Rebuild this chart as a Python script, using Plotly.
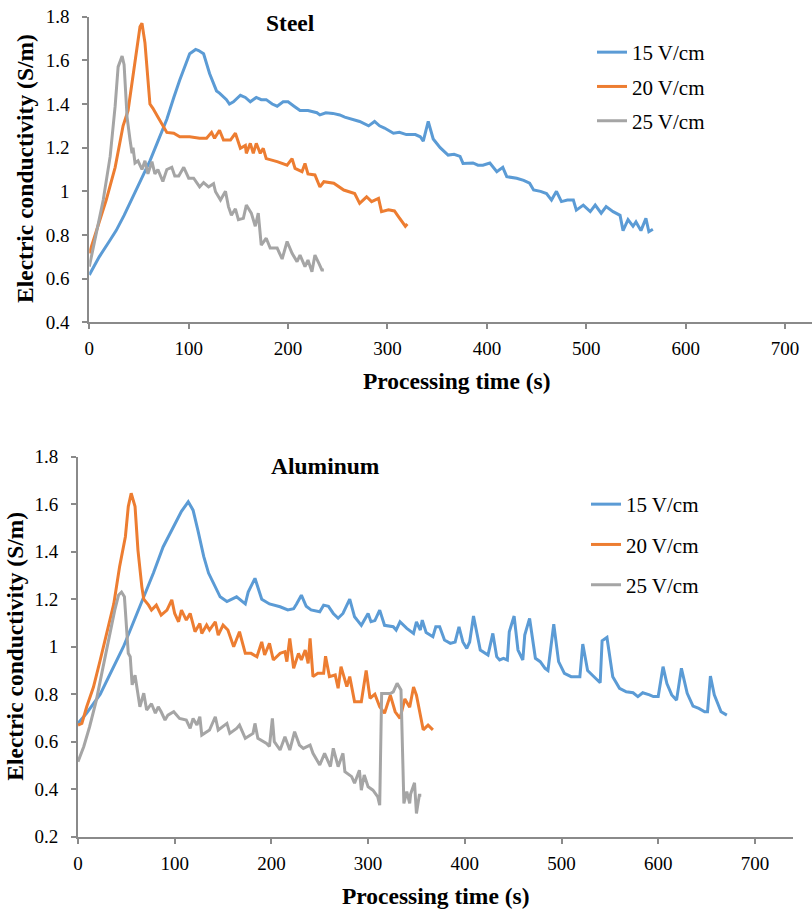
import plotly.graph_objects as go

# ---------------- data ----------------
steel_15_t = [0, 10, 20, 27, 35, 44, 52, 61, 70, 78, 85, 91, 101, 107, 110, 115, 121, 126, 128, 131, 138, 141, 145,
              152, 157, 162, 168, 173, 178, 184, 189, 195, 200, 206, 212, 220, 229, 232, 238, 245, 252, 257, 265,
              272, 281, 287, 292, 297, 306, 312, 319, 328, 333, 336, 341, 346, 353, 361, 367, 373, 376, 386, 391,
              396, 403, 410, 416, 420, 430, 437, 443, 447, 454, 460, 465, 470, 475, 481, 487, 490, 497, 504, 509,
              515, 520, 527, 534, 537, 542, 547, 550, 555, 560, 563, 567]
steel_15_v = [0.617, 0.70, 0.77, 0.82, 0.89, 0.975, 1.05, 1.14, 1.24, 1.33, 1.43, 1.51, 1.63, 1.65, 1.645, 1.63,
              1.54, 1.48, 1.46, 1.45, 1.42, 1.40, 1.41, 1.44, 1.43, 1.41, 1.43, 1.42, 1.42, 1.40, 1.39, 1.41, 1.41,
              1.39, 1.37, 1.37, 1.36, 1.35, 1.36, 1.357, 1.35, 1.34, 1.33, 1.32, 1.30, 1.32, 1.30, 1.29, 1.266,
              1.27, 1.26, 1.26, 1.25, 1.23, 1.32, 1.24, 1.20, 1.166, 1.17, 1.16, 1.128, 1.13, 1.12, 1.12, 1.13,
              1.09, 1.11, 1.067, 1.06, 1.05, 1.037, 1.006, 1.00, 0.99, 0.96, 1.00, 0.953, 0.96, 0.96, 0.914, 0.937,
              0.907, 0.937, 0.90, 0.93, 0.907, 0.89, 0.82, 0.87, 0.84, 0.86, 0.82, 0.876, 0.815, 0.826]

steel_20_t = [0, 5, 11, 17, 26, 34, 39, 44, 51, 53, 56, 61, 64, 69, 74, 78, 85, 91, 101, 111, 118, 123, 126, 131,
              135, 142, 147, 152, 157, 158, 162, 165, 168, 172, 175, 178, 189, 199, 204, 207, 214, 217, 220, 227,
              232, 236, 246, 256, 267, 272, 279, 284, 291, 294, 301, 307, 311, 316, 318, 320]
steel_20_v = [0.716, 0.79, 0.87, 0.96, 1.11, 1.30, 1.37, 1.54, 1.754, 1.77, 1.68, 1.40, 1.38, 1.34, 1.30, 1.27,
              1.266, 1.25, 1.25, 1.243, 1.243, 1.27, 1.243, 1.28, 1.235, 1.235, 1.266, 1.197, 1.21, 1.174, 1.22,
              1.174, 1.22, 1.174, 1.197, 1.15, 1.136, 1.12, 1.15, 1.105, 1.09, 1.128, 1.08, 1.075, 1.02, 1.044,
              1.037, 1.006, 0.99, 0.945, 0.975, 0.953, 0.968, 0.907, 0.915, 0.91, 0.884, 0.853, 0.84, 0.85]

steel_25_t = [0, 7, 14, 21, 26, 29, 33, 35, 38, 41, 43, 44, 46, 49, 53, 56, 59, 63, 66, 69, 74, 78, 83, 86, 90, 95,
              100, 105, 111, 115, 120, 125, 127, 132, 137, 140, 143, 147, 150, 155, 158, 163, 167, 170, 173, 178,
              182, 189, 194, 199, 204, 209, 212, 217, 220, 224, 227, 231, 234, 236]
steel_25_v = [0.655, 0.81, 0.96, 1.16, 1.39, 1.57, 1.62, 1.58, 1.34, 1.235, 1.174, 1.2, 1.13, 1.14, 1.10, 1.14,
              1.08, 1.136, 1.08, 1.10, 1.045, 1.10, 1.11, 1.07, 1.07, 1.11, 1.06, 1.06, 1.02, 1.04, 1.02, 1.035,
              0.998, 0.96, 1.0, 0.93, 0.89, 0.92, 0.87, 0.876, 0.937, 0.90, 0.84, 0.90, 0.754, 0.785, 0.74, 0.74,
              0.69, 0.77, 0.716, 0.678, 0.708, 0.655, 0.685, 0.632, 0.708, 0.67, 0.64, 0.64]

alu_15_t = [0, 9, 23, 37, 47, 57, 68, 78, 88, 99, 107, 114, 119, 124, 130, 135, 140, 147, 154, 164, 173, 176, 183,
            186, 190, 198, 209, 217, 223, 226, 231, 236, 241, 250, 254, 259, 264, 269, 274, 281, 286, 293, 300,
            303, 307, 312, 317, 326, 329, 333, 340, 347, 350, 354, 356, 360, 367, 370, 374, 379, 385, 390, 394,
            398, 402, 405, 409, 416, 424, 429, 433, 436, 440, 444, 446, 451, 455, 460, 462, 467, 473, 478, 483,
            486, 492, 497, 503, 510, 519, 522, 527, 532, 540, 542, 547, 553, 560, 567, 574, 579, 584, 591, 595,
            600, 605, 609, 614, 619, 624, 630, 636, 642, 648, 651, 654, 658, 665, 671]
alu_15_v = [0.677, 0.72, 0.80, 0.916, 1.0, 1.10, 1.21, 1.31, 1.42, 1.505, 1.57, 1.61, 1.575, 1.49, 1.38, 1.31,
            1.267, 1.21, 1.19, 1.21, 1.18, 1.23, 1.288, 1.25, 1.20, 1.18, 1.168, 1.155, 1.16, 1.18, 1.217, 1.17,
            1.155, 1.147, 1.175, 1.17, 1.14, 1.12, 1.14, 1.20, 1.126, 1.09, 1.14, 1.105, 1.11, 1.154, 1.09, 1.084,
            1.07, 1.105, 1.077, 1.056, 1.105, 1.07, 1.112, 1.06, 1.042, 1.084, 1.084, 1.028, 1.014, 1.02, 1.084,
            1.02, 0.993, 1.02, 1.129, 0.986, 0.965, 1.056, 0.958, 0.944, 0.951, 0.944, 1.063, 1.129, 0.986, 0.944,
            1.049, 1.119, 0.951, 0.937, 0.909, 0.90, 1.095, 0.937, 0.888, 0.874, 0.874, 1.011, 0.90, 0.88, 0.848,
            1.025, 1.039, 0.874, 0.825, 0.81, 0.806, 0.79, 0.806, 0.797, 0.79, 0.79, 0.916, 0.845, 0.797, 0.775,
            0.909, 0.804, 0.75, 0.74, 0.726, 0.726, 0.876, 0.797, 0.726, 0.712]

alu_20_t = [0, 4, 9, 16, 23, 30, 37, 43, 49, 52, 55, 59, 62, 66, 68, 73, 76, 81, 86, 92, 97, 100, 104, 107, 112,
            116, 121, 126, 128, 133, 136, 142, 145, 150, 155, 161, 167, 173, 179, 185, 190, 193, 198, 202, 209,
            214, 216, 219, 223, 228, 231, 235, 238, 240, 243, 248, 254, 256, 260, 266, 269, 272, 278, 281, 286,
            293, 298, 302, 307, 312, 317, 323, 328, 333, 338, 343, 347, 350, 354, 357, 362, 367]
alu_20_v = [0.67, 0.677, 0.747, 0.83, 0.944, 1.056, 1.18, 1.337, 1.463, 1.59, 1.646, 1.59, 1.407, 1.253, 1.2,
            1.175, 1.154, 1.175, 1.133, 1.154, 1.197, 1.14, 1.105, 1.154, 1.112, 1.14, 1.063, 1.098, 1.056, 1.091,
            1.07, 1.105, 1.049, 1.091, 1.07, 1.0, 1.063, 0.972, 0.972, 0.958, 1.02, 0.965, 1.014, 0.944, 0.972,
            0.979, 0.937, 1.035, 0.909, 0.972, 0.944, 0.986, 0.93, 1.035, 0.874, 0.888, 0.888, 0.96, 0.874, 0.881,
            0.825, 0.916, 0.832, 0.874, 0.768, 0.768, 0.90, 0.783, 0.80, 0.747, 0.72, 0.796, 0.726, 0.698, 0.78,
            0.745, 0.83, 0.796, 0.705, 0.65, 0.67, 0.65]

alu_25_t = [0, 6, 12, 19, 26, 33, 38, 42, 45, 48, 50, 52, 54, 56, 59, 62, 64, 68, 71, 76, 80, 83, 86, 90, 93, 99,
            105, 112, 116, 119, 123, 126, 128, 136, 142, 145, 154, 157, 164, 167, 173, 181, 183, 186, 195, 198,
            201, 203, 209, 214, 219, 224, 229, 233, 240, 243, 250, 255, 261, 264, 269, 274, 276, 283, 286, 291,
            293, 296, 300, 305, 310, 312, 314, 323, 326, 330, 334, 337, 340, 343, 344, 348, 350, 353, 355]
alu_25_v = [0.516, 0.58, 0.663, 0.775, 0.916, 1.056, 1.154, 1.218, 1.23, 1.21, 1.084, 0.972, 0.958, 0.839, 0.88,
            0.80, 0.747, 0.804, 0.733, 0.76, 0.72, 0.747, 0.726, 0.691, 0.712, 0.726, 0.698, 0.691, 0.656, 0.698,
            0.67, 0.705, 0.628, 0.649, 0.705, 0.649, 0.677, 0.635, 0.656, 0.67, 0.614, 0.635, 0.677, 0.614, 0.593,
            0.58, 0.698, 0.60, 0.565, 0.621, 0.565, 0.642, 0.586, 0.572, 0.586, 0.551, 0.502, 0.551, 0.495, 0.572,
            0.495, 0.551, 0.474, 0.453, 0.425, 0.48, 0.396, 0.46, 0.41, 0.396, 0.368, 0.333, 0.803, 0.803, 0.81,
            0.846, 0.818, 0.34, 0.39, 0.34, 0.38, 0.427, 0.298, 0.375, 0.375]

series_names = ["15 V/cm", "20 V/cm", "25 V/cm"]
colors = ["#5B9BD5", "#ED7D31", "#A5A5A5"]
x_ticks = [0, 100, 200, 300, 400, 500, 600, 700]
y_ticks_top = [0.4, 0.6, 0.8, 1.0, 1.2, 1.4, 1.6, 1.8]
y_ticktext_top = ["0.4", "0.6", "0.8", "1", "1.2", "1.4", "1.6", "1.8"]
y_ticks_bot = [0.2, 0.4, 0.6, 0.8, 1.0, 1.2, 1.4, 1.6, 1.8]
y_ticktext_bot = ["0.2", "0.4", "0.6", "0.8", "1", "1.2", "1.4", "1.6", "1.8"]

W, H = 812, 909
SERIF = "Liberation Serif"
AXIS_GREY = "#8a8a8a"

fig = go.Figure()

top = [(steel_15_t, steel_15_v), (steel_20_t, steel_20_v), (steel_25_t, steel_25_v)]
bot = [(alu_15_t, alu_15_v), (alu_20_t, alu_20_v), (alu_25_t, alu_25_v)]

for i, (t, v) in enumerate(top):
    fig.add_trace(go.Scatter(x=t, y=v, mode="lines", name=series_names[i],
                             line=dict(color=colors[i], width=3),
                             xaxis="x", yaxis="y", legend="legend", legendgroup="a%d" % i))
for i, (t, v) in enumerate(bot):
    fig.add_trace(go.Scatter(x=t, y=v, mode="lines", name=series_names[i],
                             line=dict(color=colors[i], width=3),
                             xaxis="x2", yaxis="y2", legend="legend2", legendgroup="b%d" % i))


def px_x(px):
    return px / W


def px_y(py):
    return 1 - py / H


axis_common = dict(showline=True, linecolor=AXIS_GREY, linewidth=2, showgrid=False, zeroline=False,
                   ticks="outside", ticklen=5, tickwidth=1.5, tickcolor=AXIS_GREY,
                   tickfont=dict(family=SERIF, size=19, color="#000000"), automargin=False)

fig.update_layout(
    width=W, height=H,
    margin=dict(l=0, r=0, t=0, b=0),
    font=dict(family=SERIF, color="#000000"),
    paper_bgcolor="white", plot_bgcolor="white",
    xaxis=dict(domain=[px_x(89.3), 1.0], range=[0, 727.1], anchor="y",
               tickvals=x_ticks, ticktext=[str(v) for v in x_ticks], ticklabelstandoff=3, **axis_common),
    yaxis=dict(domain=[px_y(322.3), px_y(16.7)], range=[0.4, 1.8], anchor="x",
               tickvals=y_ticks_top, ticktext=y_ticktext_top, ticklabelstandoff=9, **axis_common),
    xaxis2=dict(domain=[px_x(78), px_x(793)], range=[0, 739.4], anchor="y2",
                tickvals=x_ticks, ticktext=[str(v) for v in x_ticks], ticklabelstandoff=3, **axis_common),
    yaxis2=dict(domain=[px_y(836.7), px_y(456.7)], range=[0.2, 1.8], anchor="x2",
                tickvals=y_ticks_bot, ticktext=y_ticktext_bot, ticklabelstandoff=9, **axis_common),
    legend=dict(x=px_x(592), y=px_y(32), xanchor="left", yanchor="top", bgcolor="rgba(0,0,0,0)",
                font=dict(family=SERIF, size=21, color="#000000"), traceorder="grouped", tracegroupgap=4),
    legend2=dict(x=px_x(586), y=px_y(484), xanchor="left", yanchor="top", bgcolor="rgba(0,0,0,0)",
                 font=dict(family=SERIF, size=21, color="#000000"), traceorder="grouped", tracegroupgap=10),
)

bold = dict(family=SERIF, size=23.5, color="#000000", weight="bold")
annotations = [
    dict(text="Steel", x=px_x(290), y=px_y(23), xref="paper", yref="paper",
         xanchor="center", yanchor="middle", showarrow=False, font=bold),
    dict(text="Aluminum", x=px_x(325), y=px_y(466), xref="paper", yref="paper",
         xanchor="center", yanchor="middle", showarrow=False, font=bold),
    dict(text="Processing time (s)", x=px_x(456.7), y=px_y(381), xref="paper", yref="paper",
         xanchor="center", yanchor="middle", showarrow=False, font=bold),
    dict(text="Processing time (s)", x=px_x(435.8), y=px_y(896), xref="paper", yref="paper",
         xanchor="center", yanchor="middle", showarrow=False, font=bold),
    dict(text="Electric conductivity (S/m)", x=px_x(25), y=px_y(169), xref="paper", yref="paper",
         xanchor="center", yanchor="middle", showarrow=False, textangle=-90, font=bold),
    dict(text="Electric conductivity (S/m)", x=px_x(15), y=px_y(646.7), xref="paper", yref="paper",
         xanchor="center", yanchor="middle", showarrow=False, textangle=-90, font=bold),
]
fig.update_layout(annotations=annotations)

fig.write_html("out.html")
